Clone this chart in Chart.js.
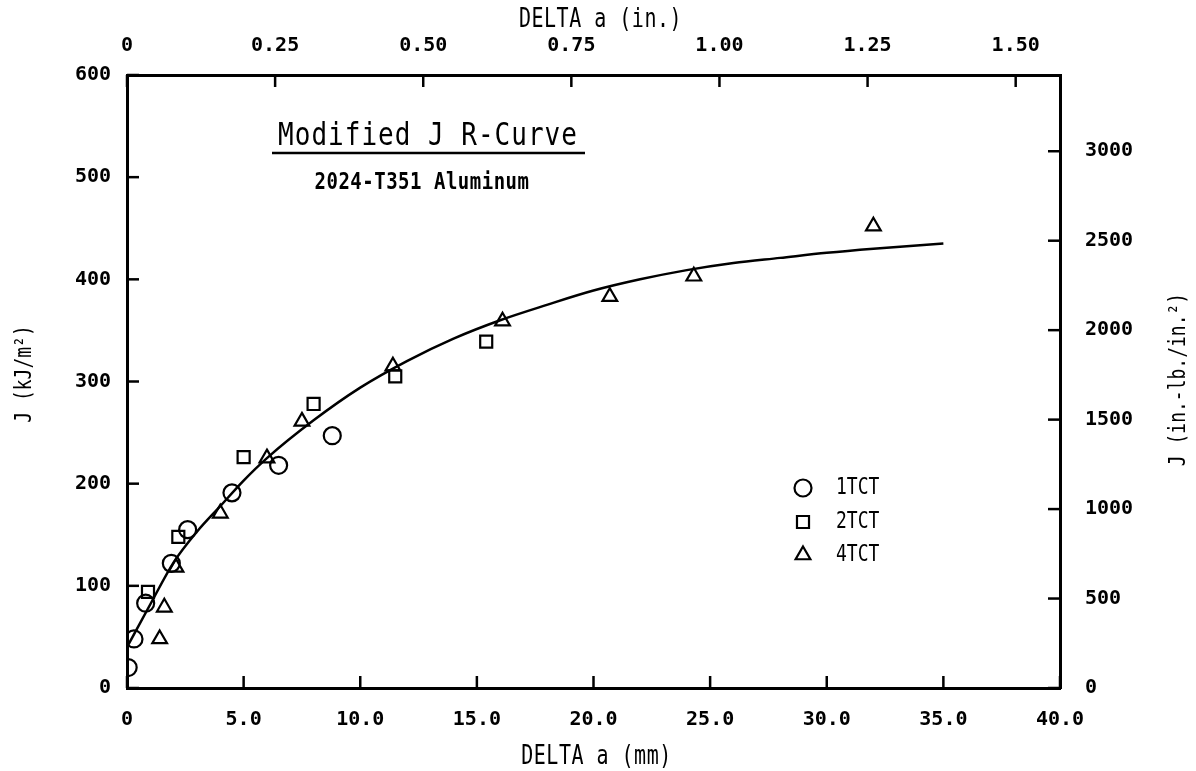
<!DOCTYPE html>
<html>
<head>
<meta charset="utf-8">
<script src="https://cdn.jsdelivr.net/npm/chart.js@4.4.1/dist/chart.umd.min.js"></script>
<style>
  html, body { margin: 0; padding: 0; background: #fff; }
  #wrap { width: 1196px; height: 771px; position: relative; }
</style>
</head>
<body>
<div id="wrap"><canvas id="myChart" width="1196" height="771"></canvas></div>
<script>
// measured points, DELTA a in mm, J in kJ/m^2
const circleX = [0.05, 0.3, 0.8, 1.9, 2.6, 4.5, 6.5, 8.8];
const circleJ = [20, 48, 83, 122, 155, 191, 218, 247];

const squareX = [0.9, 2.2, 5.0, 8.0, 11.5, 15.4];
const squareJ = [94, 148, 226, 278, 305, 339];

const triangleX = [1.4, 1.6, 2.1, 4.0, 6.0, 7.5, 11.4, 16.1, 20.7, 24.3, 32.0];
const triangleJ = [48, 79, 118, 171, 225, 261, 315, 359, 383, 403, 452];

// fitted R-curve
const curveX = [0, 1, 2, 3, 4, 5, 6, 8, 10, 12, 14, 16, 18, 20, 22, 24, 26, 28, 30, 32, 35];
const curveJ = [40, 82, 123, 153, 178, 203, 225, 262, 294, 320, 342, 360, 375, 389, 400, 409, 416, 421, 426, 430, 435];

const legendLabels = ['1TCT', '2TCT', '4TCT'];
const mmTicks = [0, 5, 10, 15, 20, 25, 30, 35, 40];
const inchTicks = [0, 0.25, 0.5, 0.75, 1.0, 1.25, 1.5];
const kjTicks = [0, 100, 200, 300, 400, 500, 600];
const inlbTicks = [0, 500, 1000, 1500, 2000, 2500, 3000];

const KJ_PER_INLB = 0.175127; // 1 in.-lb./in.^2 in kJ/m^2
const MM_PER_IN = 25.4;

function pts(xs, ys) {
  return xs.map((x, i) => ({ x: x, y: ys[i] }));
}

Chart.defaults.font.family = "'DejaVu Sans Mono', 'Liberation Mono', monospace";
Chart.defaults.color = '#000';

const tickFont = { family: "'DejaVu Sans Mono', monospace", size: 20, weight: 'bold' };

function axisBox(size) {
  return function (scale) {
    if (scale.isHorizontal()) scale.height = size;
    else scale.width = size;
  };
}

function fixedTicks(list) {
  return function (scale) {
    scale.ticks = list.map(v => ({ value: v }));
  };
}

// typewriter lettering is tall and narrow, so stretch the text a bit
function tallText(ctx, text, x, y, rot, sy) {
  ctx.save();
  ctx.translate(x, y);
  if (rot) ctx.rotate(rot);
  ctx.scale(1, sy);
  ctx.fillText(text, 0, 0);
  ctx.restore();
}

// ticks point inward on all four sides
const inwardTicks = {
  id: 'inwardTicks',
  afterDraw(chart) {
    const ctx = chart.ctx;
    const a = chart.chartArea;
    const len = 12;
    ctx.save();
    ctx.strokeStyle = '#000';
    ctx.lineWidth = 2.5;
    ['x', 'x2', 'y', 'y2'].forEach(id => {
      const s = chart.scales[id];
      s.ticks.forEach(t => {
        const p = s.getPixelForValue(t.value);
        ctx.beginPath();
        if (id === 'x') { ctx.moveTo(p, a.bottom); ctx.lineTo(p, a.bottom - len); }
        if (id === 'x2') { ctx.moveTo(p, a.top); ctx.lineTo(p, a.top + len); }
        if (id === 'y') { ctx.moveTo(a.left, p); ctx.lineTo(a.left + len, p); }
        if (id === 'y2') { ctx.moveTo(a.right, p); ctx.lineTo(a.right - len, p); }
        ctx.stroke();
      });
    });
    ctx.restore();
  }
};

// titles, axis titles and the in-plot legend
const annotations = {
  id: 'annotations',
  afterDraw(chart) {
    const ctx = chart.ctx;
    const a = chart.chartArea;
    const midX = (a.left + a.right) / 2;
    const midY = (a.top + a.bottom) / 2;
    ctx.save();
    ctx.fillStyle = '#000';
    ctx.strokeStyle = '#000';
    ctx.textBaseline = 'middle';
    ctx.textAlign = 'center';

    // axis titles
    ctx.font = "20px 'DejaVu Sans Mono'";
    ctx.letterSpacing = '0.5px';
    tallText(ctx, 'DELTA a (mm)', midX + 3, 757, 0, 1.3);
    tallText(ctx, 'DELTA a (in.)', midX + 7, 20, 0, 1.3);

    ctx.font = "18px 'DejaVu Sans Mono'";
    ctx.letterSpacing = '0px';
    tallText(ctx, 'J (kJ/m\u00b2)', 25, 374, -Math.PI / 2, 1.25);
    tallText(ctx, 'J (in.-lb./in.\u00b2)', 1179, midY - 2, -Math.PI / 2, 1.25);

    // chart title with underline
    ctx.font = "26px 'DejaVu Sans Mono'";
    ctx.letterSpacing = '1px';
    tallText(ctx, 'Modified J R-Curve', 428, 137, 0, 1.2);
    ctx.lineWidth = 2.5;
    ctx.beginPath();
    ctx.moveTo(272, 153);
    ctx.lineTo(585, 153);
    ctx.stroke();

    ctx.font = "bold 19px 'DejaVu Sans Mono'";
    ctx.letterSpacing = '0.5px';
    tallText(ctx, '2024-T351 Aluminum', 422, 183, 0, 1.2);

    // legend, open markers like the plotted ones
    const rows = [488, 522, 555];
    ctx.textAlign = 'left';
    ctx.font = "18px 'DejaVu Sans Mono'";
    ctx.letterSpacing = '0px';
    legendLabels.forEach((label, i) => {
      const ds = chart.data.datasets[i];
      ctx.lineWidth = ds.pointBorderWidth;
      ctx.fillStyle = 'rgba(0,0,0,0)';
      Chart.helpers.drawPoint(ctx, {
        pointStyle: ds.pointStyle, radius: ds.pointRadius, borderWidth: ds.pointBorderWidth, rotation: 0
      }, 803, rows[i]);
      ctx.fillStyle = '#000';
      tallText(ctx, label, 836, rows[i], 0, 1.3);
    });
    ctx.restore();
  }
};

const markerBase = {
  showLine: false,
  borderColor: '#000',
  backgroundColor: 'rgba(0,0,0,0)',
  pointBorderColor: '#000',
  pointBackgroundColor: 'rgba(0,0,0,0)',
  pointBorderWidth: 2.2
};

const ctx = document.getElementById('myChart').getContext('2d');
const myChart = new Chart(ctx, {
  type: 'scatter',
  data: {
    datasets: [
      Object.assign({}, markerBase, {
        label: legendLabels[0], data: pts(circleX, circleJ), pointStyle: 'circle', pointRadius: 8.5
      }),
      Object.assign({}, markerBase, {
        label: legendLabels[1], data: pts(squareX, squareJ), pointStyle: 'rect', pointRadius: 8.5
      }),
      Object.assign({}, markerBase, {
        label: legendLabels[2], data: pts(triangleX, triangleJ), pointStyle: 'triangle', pointRadius: 8.5
      }),
      {
        label: 'fit', data: pts(curveX, curveJ), showLine: true, pointRadius: 0,
        borderColor: '#000', borderWidth: 2.5, cubicInterpolationMode: 'monotone', fill: false
      }
    ]
  },
  options: {
    responsive: false,
    animation: false,
    layout: { padding: 0 },
    plugins: { legend: { display: false }, tooltip: { enabled: false } },
    scales: {
      x: {
        type: 'linear', position: 'bottom', min: 0, max: 40,
        afterBuildTicks: fixedTicks(mmTicks),
        afterFit: axisBox(83),
        grid: { display: false },
        border: { display: true, color: '#000', width: 3 },
        ticks: { font: tickFont, padding: 12, maxRotation: 0,
          callback: v => v === 0 ? '0' : v.toFixed(1) }
      },
      x2: {
        type: 'linear', position: 'top', min: 0, max: 40 / MM_PER_IN,
        afterBuildTicks: fixedTicks(inchTicks),
        afterFit: axisBox(75),
        grid: { display: false },
        border: { display: true, color: '#000', width: 3 },
        ticks: { font: tickFont, padding: 9, maxRotation: 0,
          callback: v => v === 0 ? '0' : v.toFixed(2) }
      },
      y: {
        type: 'linear', position: 'left', min: 0, max: 600,
        afterBuildTicks: fixedTicks(kjTicks),
        afterFit: axisBox(127),
        grid: { display: false },
        border: { display: true, color: '#000', width: 3 },
        ticks: { font: tickFont, padding: 8, callback: v => String(v) }
      },
      y2: {
        type: 'linear', position: 'right', min: 0, max: 600 / KJ_PER_INLB,
        afterBuildTicks: fixedTicks(inlbTicks),
        afterFit: axisBox(136),
        grid: { display: false },
        border: { display: true, color: '#000', width: 3 },
        ticks: { font: tickFont, padding: 17, callback: v => String(v) }
      }
    }
  },
  plugins: [inwardTicks, annotations]
});
</script>
</body>
</html>
